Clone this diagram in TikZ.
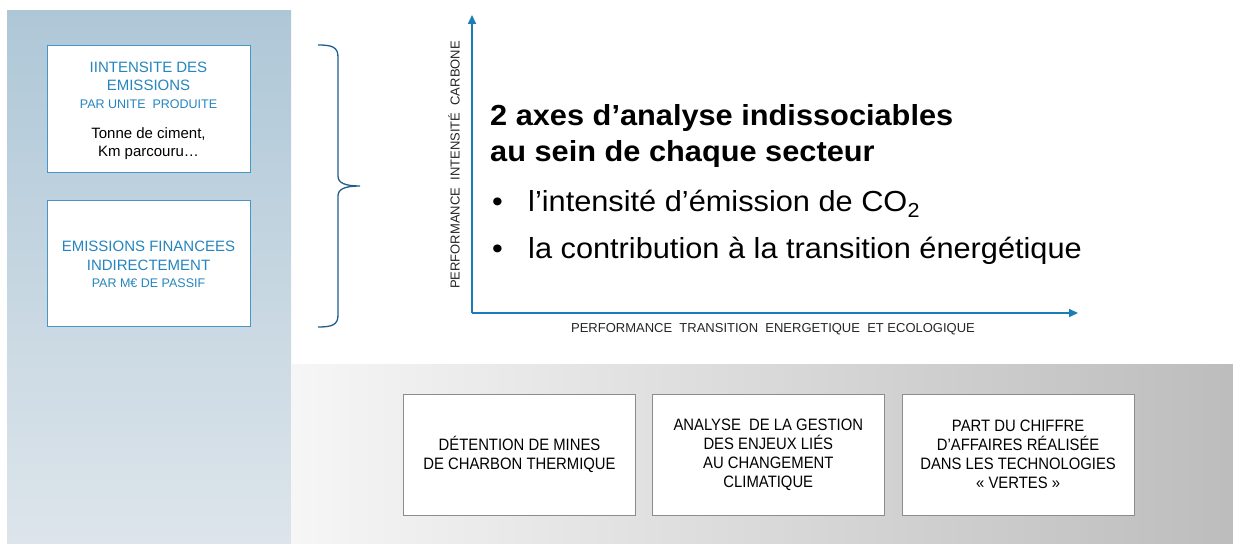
\documentclass[tikz,border=0pt]{standalone}
\usepackage{fontspec}
\setmainfont{Liberation Sans}
\newfontfamily\narrowfont[FakeStretch=0.9]{Liberation Sans}
\newfontfamily\widefont[FakeStretch=1.06]{Liberation Sans}
\usetikzlibrary{positioning,arrows.meta}

\definecolor{panelblue}{HTML}{AEC7D7}
\definecolor{panellight}{HTML}{DDE5EB}
\definecolor{axisblue}{HTML}{1B7DB8}
\definecolor{textblue}{HTML}{2585BE}
\definecolor{bracecol}{HTML}{1F5E8C}
\definecolor{boxgray}{HTML}{8C8C8C}

\tikzset{
  leftbox/.style={draw=textblue!85, fill=white, line width=0.9pt, minimum width=203pt, inner sep=0pt},
  bluehead/.style={inner sep=0pt, align=center, text=textblue, font=\fontsize{15}{18.3}\selectfont},
  bluesub/.style={inner sep=0pt, align=center, text=textblue, font=\fontsize{12.5}{14}\selectfont},
  blacksub/.style={inner sep=0pt, align=center, font=\fontsize{15}{18}\selectfont},
  critbox/.style={draw=boxgray, fill=white, line width=0.8pt, minimum width=232pt, minimum height=121pt,
    inner sep=0pt, align=center, font=\narrowfont\fontsize{16.5}{19}\selectfont},
  axis/.style={draw=axisblue, line width=1.6pt, -{Triangle[length=9pt,width=8pt]}},
  axislabel/.style={inner sep=0pt, text=black!85, font=\fontsize{13}{15}\selectfont},
  titletext/.style={inner sep=0pt, anchor=base west, font=\widefont\bfseries\fontsize{29}{36}\selectfont},
  itemtext/.style={inner sep=0pt, anchor=base west, font=\widefont\fontsize{29}{36}\selectfont},
}

\begin{document}
\begin{tikzpicture}[x=1pt,y=1pt]
\useasboundingbox (0,0) rectangle (1233,543);

% fonds
\shade[top color=panelblue, bottom color=panellight] (7,0) rectangle (291,532);
\shade[left color=gray!7, right color=gray!52] (291,0) rectangle (1233,178);

% cadres de gauche
\node[leftbox, minimum height=126.7pt] (intensite) at (148.5,433.7) {};
\node[bluehead, below=16pt of intensite.north] (intensitehead) {IINTENSITE DES\\EMISSIONS};
\node[bluesub, below=9pt of intensitehead] (intensitesub) {PAR UNITE \ PRODUITE};
\node[blacksub, below=18.5pt of intensitesub] (intensiteex) {Tonne de ciment,\\Km parcouru…};

\node[leftbox, minimum height=126pt] (financees) at (148.5,279.3) {};
\node[bluehead, below=41pt of financees.north] (financeeshead) {EMISSIONS FINANCEES\\INDIRECTEMENT};
\node[bluesub, below=8pt of financeeshead] (financeessub) {PAR M€ DE PASSIF};

% accolade
\coordinate (bracetop) at (318,498);
\coordinate (bracetip) at (360,357);
\coordinate (bracebot) at (318,216);
\draw[bracecol, line width=1.3pt] (bracetop) .. controls (332,498) and (338,496) .. (338,486)
  -- (338,367) .. controls (338,360) and (345,357) .. (bracetip)
  .. controls (345,357) and (338,354) .. (338,347)
  -- (338,228) .. controls (338,218) and (332,216) .. (bracebot);

% axes
\coordinate (origin) at (472,230);
\coordinate (ytip) at (472,528);
\coordinate (xtip) at (1078,230);
\draw[axis] (origin) -- (ytip);
\draw[axis] (origin) -- (xtip);
\node[axislabel, rotate=90] (ylabel) at (454,378) {PERFORMANCE \ INTENSITÉ \ CARBONE};
\node[axislabel, anchor=base] (xlabel) at (773,210) {PERFORMANCE \ TRANSITION \ ENERGETIQUE \ ET ECOLOGIQUE};

% texte central
\node[titletext] (title1) at (490,417) {2 axes d’analyse indissociables};
\node[titletext] (title2) at (490,381) {au sein de chaque secteur};
\node[itemtext] (item1) at (492,331) {\makebox[36pt][l]{•}l’intensité d’émission de CO\textsubscript{2}};
\node[itemtext] (item2) at (492,284) {\makebox[36pt][l]{•}la contribution à la transition énergétique};

% criteres du bas
\node[critbox] (charbon) at (519.5,88.5) {DÉTENTION DE MINES\\DE CHARBON THERMIQUE};
\node[critbox, right=16pt of charbon] (gestion) {ANALYSE \ DE LA GESTION\\DES ENJEUX LIÉS\\AU CHANGEMENT\\CLIMATIQUE};
\node[critbox, right=17pt of gestion] (vertes) {PART DU CHIFFRE\\D’AFFAIRES RÉALISÉE\\DANS LES TECHNOLOGIES\\« VERTES »};
\end{tikzpicture}
\end{document}
